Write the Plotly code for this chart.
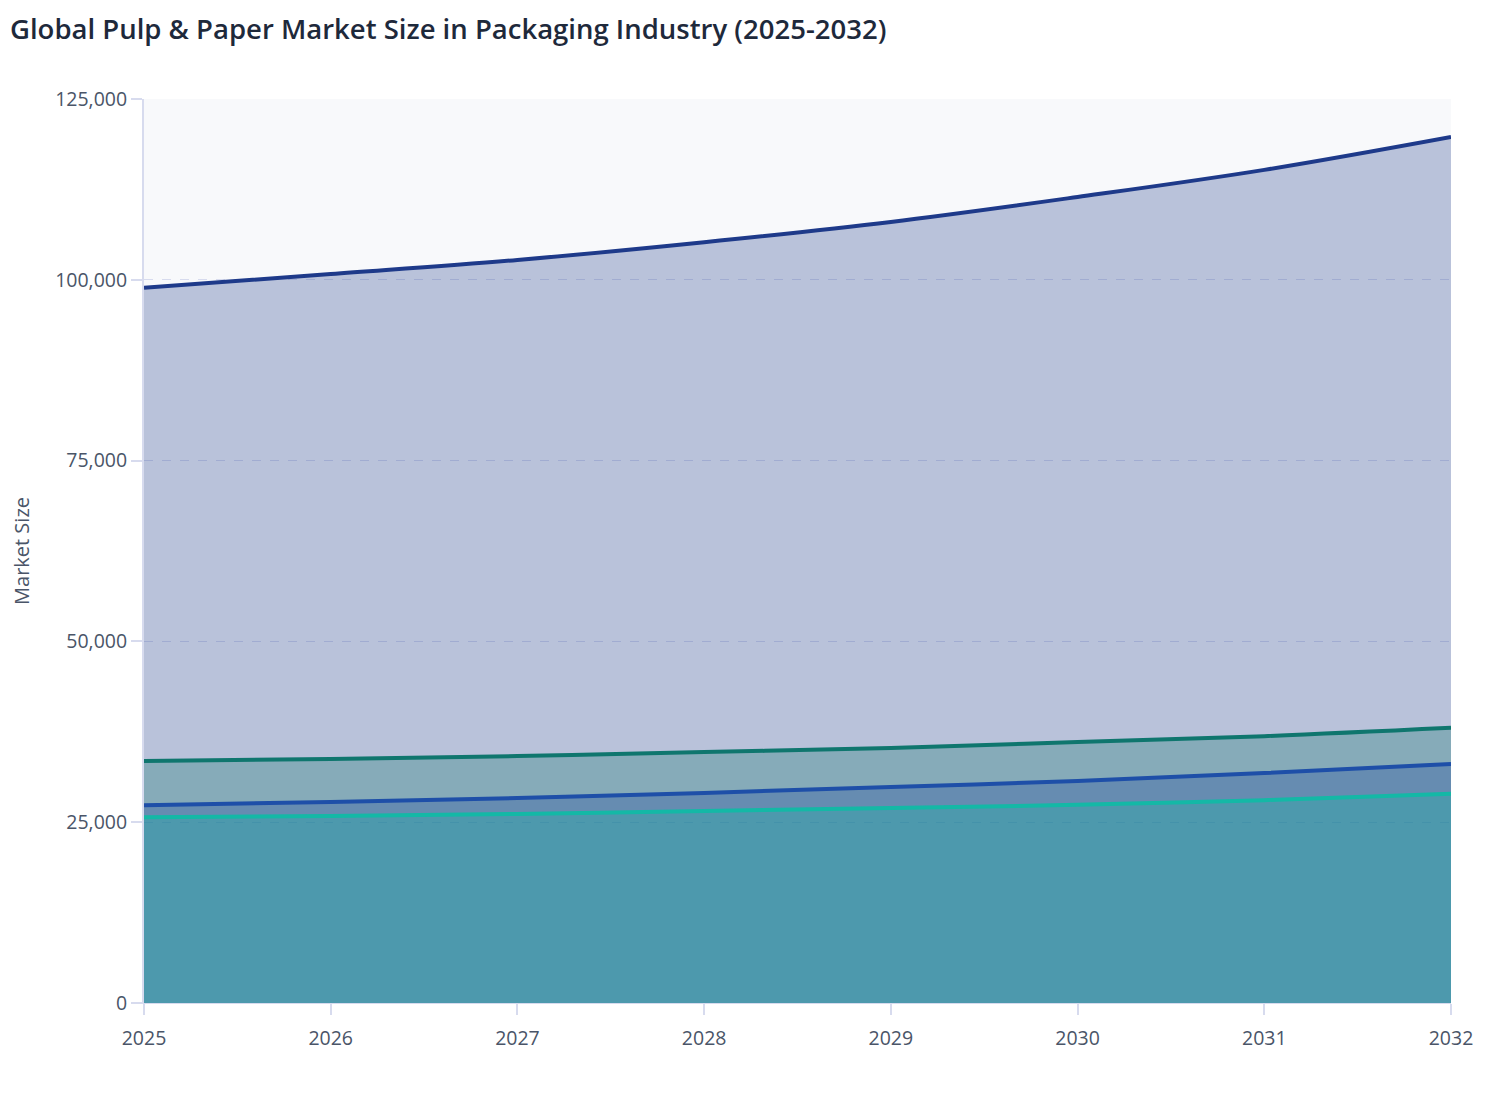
import plotly.graph_objects as go

years = [2025, 2026, 2027, 2028, 2029, 2030, 2031, 2032]

# Series values
series_names = ["Total", "Series B", "Series C", "Series D"]
total = [98900, 100800, 102750, 105200, 108000, 111450, 115200, 119750]
series_b = [33450, 33750, 34150, 34700, 35250, 36100, 36900, 38050]
series_c = [27350, 27800, 28350, 29050, 29850, 30700, 31800, 33050]
series_d = [25700, 25850, 26150, 26550, 26950, 27400, 28050, 28950]

line_colors = ["#1e3a8a", "#0f766e", "#1e4fa8", "#14b8a6"]
fill_colors = ["rgba(30,58,138,0.29)", "rgba(15,118,110,0.3)",
               "rgba(30,70,160,0.3)", "rgba(20,184,166,0.3)"]

fig = go.Figure()
for name, vals, lc, fc in zip(series_names, [total, series_b, series_c, series_d],
                              line_colors, fill_colors):
    fig.add_trace(go.Scatter(
        x=years, y=vals, name=name, mode="lines",
        line=dict(color=lc, width=4, shape="spline"),
        fill="tozeroy", fillcolor=fc,
    ))

font_family = "Open Sans, Noto Sans, sans-serif"
W, H = 1500, 1112
L, R, T, B = 136, 57, 91, 117
plot_w = W - L - R
plot_h = H - T - B

fig.update_layout(
    width=W, height=H,
    margin=dict(l=L, r=R, t=T, b=B),
    paper_bgcolor="white",
    plot_bgcolor="#f8f9fb",
    showlegend=False,
    font=dict(family=font_family, size=19.5, color="#4a5568"),
    xaxis=dict(range=[2025, 2032], tickmode="array", tickvals=years,
               ticktext=[str(y) for y in years],
               showgrid=False, zeroline=False, automargin=False,
               showline=True, linecolor="#d7dbee", linewidth=1,
               ticks="outside", ticklen=11, tickcolor="#d7dbee", tickwidth=2,
               ticklabelstandoff=7),
    yaxis=dict(range=[0, 125000], tickvals=[0, 25000, 50000, 75000, 100000, 125000],
               tickformat=",", showgrid=True, gridcolor="#d7dbee", griddash="dash",
               gridwidth=1, zeroline=False, automargin=False,
               showline=True, linecolor="#d7dbee", linewidth=2,
               ticks="outside", ticklen=11, tickcolor="#d7dbee", tickwidth=2,
               ticklabelstandoff=0,
               title=dict(text="Market Size", font=dict(size=20, color="#4a5568"), standoff=26)),
    annotations=[dict(
        text="Global Pulp & Paper Market Size in Packaging Industry (2025-2032)",
        xref="paper", yref="paper",
        x=-(L - 1) / plot_w, y=1 + (T - 1) / plot_h,
        xanchor="left", yanchor="top", showarrow=False, borderpad=0,
        font=dict(size=27.5, color="#1e293b", family=font_family, weight=600),
    )],
)

fig.write_html("out.html")
